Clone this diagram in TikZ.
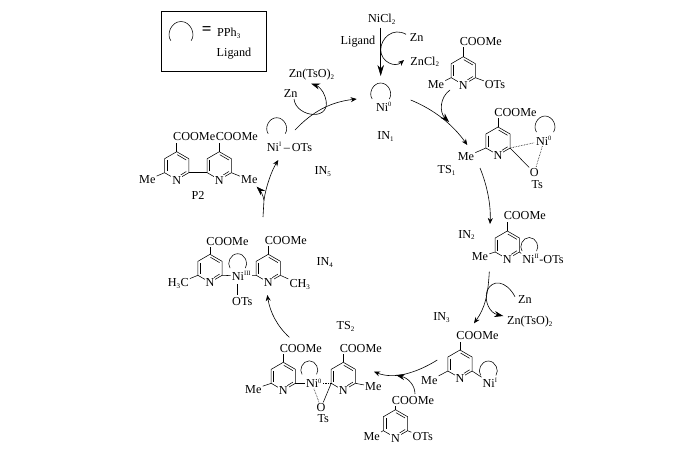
\documentclass[tikz,border=0pt]{standalone}
\usepackage{fontspec}
\setmainfont{Liberation Serif}
\usetikzlibrary{arrows.meta}
\tikzset{
  bond/.style={line width=.55pt},
  txt/.style={inner sep=1pt,font=\fontsize{12.2}{14}\selectfont},
  rxn/.style={line width=.6pt,-{Stealth[length=6pt,width=5pt]}},
  bigrxn/.style={line width=.6pt,-{Stealth[length=9pt,width=6pt]}},
  weak/.style={line width=.6pt,densely dotted}
}
\newcommand{\sbs}[1]{\textsubscript{\fontsize{7}{7}\selectfont #1}}
\newcommand{\sps}[1]{\textsuperscript{\fontsize{6.5}{7}\selectfont #1}}
% ring: name, centre x, centre y, height of the COOMe label
\newcommand{\pyring}[4]{%
  \begin{scope}[shift={(#2,#3)}]
    \draw[bond] (0,-14) coordinate (#1-t) -- (12.1,-7) coordinate (#1-ur)
      -- (12.1,7) coordinate (#1-lr) -- (0,14) coordinate (#1-n)
      -- (-12.1,7) coordinate (#1-ll) -- (-12.1,-7) coordinate (#1-ul) -- cycle;
    \draw[bond] (.5,-11) -- (9.6,-5.7);
    \draw[bond] (-9.6,-5.5) -- (-9.6,5.5);
    \draw[bond] (4,9.3) -- (9.6,5.8);
    \node[txt,fill=white] (#1-N) at (0,14.5) {N};
    \node[txt] (#1-e) at (17.5,-14-#4) {COOMe};
    \draw[bond] (#1-t) -- (0,-8.5-#4);
  \end{scope}}
% ligand loop: centre x, centre y, radius
\newcommand{\ligloop}[3]{%
  \begin{scope}[shift={(#1,#2)},scale=#3]
    \draw[bond] (-.85,.6) .. controls (-1.25,.05) and (-.8,-1) .. (0,-1)
      .. controls (.8,-1) and (1.25,.05) .. (.85,.6);
  \end{scope}}
\begin{document}
\begin{tikzpicture}[x=1pt,y=-1pt]
  \useasboundingbox (0,0) rectangle (700,459);
  % Legend
  \node[draw,bond,minimum width=105pt,minimum height=60pt,inner sep=0] (legend) at (214.2,41.7) {};
  \ligloop{181}{33.5}{12}
  \node[txt,font=\fontsize{17}{17}\selectfont\bfseries] (equal) at (206.7,30.5) {=};
  \node[txt] (pph) at (229,33.5) {PPh\sbs{3}};
  \node[txt] (lgd) at (234,53.7) {Ligand};
  % Ni0 formation
  \node[txt] (nicl) at (382,19) {NiCl\sbs{2}};
  \node[txt] (lig0) at (358,41.7) {Ligand};
  \node[txt] (zn0) at (416.7,37.3) {Zn};
  \node[txt] (zncl) at (425,61.7) {ZnCl\sbs{2}};
  \node[txt] (ni1) at (384,106.7) {Ni\sps{0}};
  \ligloop{380.7}{93}{10}
  \node[txt] (in1) at (385.7,136.7) {IN\sbs{1}};
  \coordinate (a1) at (380.7,27.7);
  \coordinate (a2) at (380.7,76);
  \draw[line width=.6pt,-{Stealth[length=11pt,width=6.5pt]}] (a1) -- (a2);
  \coordinate (z1) at (406,34.3);
  \coordinate (z2) at (380.7,50);
  \coordinate (z3) at (404,60);
  \draw[rxn] (z1) .. controls (393,27) and (380.7,38) .. (z2)
    .. controls (381,62) and (395,68) .. (z3);
  % First substrate
  \pyring{s1}{463.3}{70.7}{15.4}
  \node[txt] (me1) at (436,85) {Me};
  \node[txt] (ots1) at (495,85) {OTs};
  \draw[bond] (s1-ll) -- (me1);
  \draw[bond] (s1-lr) -- (ots1);
  % IN1 to TS1
  \coordinate (b1) at (410.7,100);
  \coordinate (b2) at (467.3,145);
  \coordinate (c1) at (450,90);
  \coordinate (c2) at (449,122);
  \draw[rxn] (b1) .. controls (435,110) and (453,125) .. (b2);
  \draw[bigrxn] (c1) .. controls (440,97) and (439,112) .. (c2);
  % TS1
  \pyring{t1}{498}{141}{14.7}
  \node[txt] (me2) at (466,156.7) {Me};
  \draw[bond] (t1-ll) -- (me2);
  \node[txt] (ni2) at (544,140.7) {Ni\sps{0}};
  \ligloop{545}{126}{10}
  \node[txt] (o1) at (534.3,172.7) {O};
  \node[txt] (ts1) at (537.3,184.3) {Ts};
  \draw[bond] (t1-lr) -- (o1);
  \draw[weak] (t1-lr) -- (ni2);
  \draw[weak] (ni2) -- (o1);
  \node[txt] (lts1) at (446.7,170.7) {TS\sbs{1}};
  \coordinate (d1) at (480,168);
  \coordinate (d2) at (490,224);
  \draw[rxn] (d1) .. controls (487,185) and (491,205) .. (d2);
  % IN2
  \pyring{i2}{507.3}{245}{15}
  \node[txt] (me3) at (480,256.7) {Me};
  \draw[bond] (i2-ll) -- (me3);
  \node[txt] (ni3) at (543,259) {Ni\sps{II}-OTs};
  \draw[bond] (i2-lr) -- (ni3.north west);
  \ligloop{529.3}{246}{8.5}
  \node[txt] (in2) at (466.7,235) {IN\sbs{2}};
  % IN2 to IN3
  \coordinate (e1) at (489.3,271.7);
  \coordinate (e2) at (474,323.3);
  \coordinate (f1) at (515,296.7);
  \coordinate (f2) at (487,291);
  \coordinate (f3) at (503.3,316);
  \node[txt] (zn2) at (525,299.3) {Zn};
  \node[txt] (zts2) at (530,321.7) {Zn(TsO)\sbs{2}};
  \draw[rxn] (e1) .. controls (488,295) and (485,308) .. (e2);
  \draw[bigrxn] (f1) .. controls (506,280) and (492,279) .. (f2)
    .. controls (484,302) and (490,313) .. (f3);
  \node[txt] (in3) at (441.7,317.3) {IN\sbs{3}};
  % IN3
  \pyring{i3}{460}{364}{14}
  \node[txt] (me4) at (429.3,380.7) {Me};
  \draw[bond] (i3-ll) -- (me4);
  \node[txt] (ni4) at (490,382.7) {Ni\sps{I}};
  \draw[bond] (i3-lr) -- (ni4);
  \ligloop{488.3}{370}{9}
  % Second substrate
  \pyring{s2}{395.5}{423.7}{9}
  \node[txt] (me5) at (371.7,436.7) {Me};
  \node[txt] (ots2) at (422.7,436.7) {OTs};
  \draw[bond] (s2-ll) -- (me5);
  \draw[bond] (s2-lr) -- (ots2);
  % IN3 to TS2
  \coordinate (g1) at (437.3,360);
  \coordinate (g2) at (374,371.7);
  \coordinate (h1) at (415,394);
  \coordinate (h2) at (396,375);
  \draw[rxn] (g1) .. controls (418,372) and (395,380) .. (g2);
  \draw[bigrxn] (h1) .. controls (415,385) and (408,378) .. (h2);
  % TS2
  \pyring{t2a}{283.3}{376.3}{14}
  \pyring{t2b}{343.3}{376.3}{14}
  \node[txt] (me6) at (253.3,389.3) {Me};
  \node[txt] (me7) at (373.3,386.7) {Me};
  \draw[bond] (t2a-ll) -- (me6);
  \draw[bond] (t2b-lr) -- (me7);
  \node[txt] (ni5) at (314,383.3) {Ni\sps{0}};
  \draw[bond] (t2a-lr) -- (ni5);
  \ligloop{309.3}{369.3}{8.5}
  \node[txt] (o2) at (321,407.7) {O};
  \node[txt] (ts2) at (323.3,419) {Ts};
  \draw[bond] (t2b-ll) -- (o2);
  \draw[weak] (ni5) -- (t2b-ll);
  \draw[weak] (ni5.south) -- (o2);
  \node[txt] (lts2) at (345.7,326.7) {TS\sbs{2}};
  \coordinate (k1) at (289.3,337.3);
  \coordinate (k2) at (267.3,295);
  \draw[rxn] (k1) .. controls (277,326) and (270,312) .. (k2);
  % IN4
  \pyring{i4a}{210}{268.3}{13}
  \pyring{i4b}{268.3}{268.3}{14}
  \node[txt] (hc) at (178.3,283.3) {H\sbs{3}C};
  \node[txt] (ch) at (300,284.3) {CH\sbs{3}};
  \draw[bond] (i4a-ll) -- (hc);
  \draw[bond] (i4b-lr) -- (ch);
  \node[txt] (ni6) at (241.5,276) {Ni\sps{III}};
  \draw[bond] (i4a-lr) -- (ni6);
  \draw[bond] (ni6) -- (i4b-ll);
  \ligloop{237.7}{262.7}{9}
  \node[txt] (ots3) at (242.3,301.7) {OTs};
  \coordinate (m1) at (237.3,284.3);
  \coordinate (m2) at (237.3,294.5);
  \draw[bond] (m1) -- (m2);
  \node[txt] (in4) at (325,262.3) {IN\sbs{4}};
  % IN4 to IN5, P2 leaves
  \coordinate (n1) at (263,217);
  \coordinate (n2) at (264,200);
  \coordinate (n3) at (278.3,160);
  \coordinate (n4) at (256.5,186.5);
  \draw[rxn] (n1) -- (n2) .. controls (266,186) and (272,170) .. (n3);
  \draw[bigrxn] (n2) .. controls (263,195) and (260,190) .. (n4);
  % P2
  \pyring{b1}{176.7}{165.7}{14.7}
  \pyring{b2}{219.3}{165.7}{14.7}
  \node[txt] (me8) at (147.3,180) {Me};
  \node[txt] (me9) at (249.3,180) {Me};
  \draw[bond] (b1-ll) -- (me8);
  \draw[bond] (b2-lr) -- (me9);
  \draw[bond] (b1-lr) -- (b2-ll);
  \node[txt] (p2) at (198,195) {P2};
  % IN5
  \node[txt] (ni7) at (289.5,147) {Ni\sps{I}\,--\,OTs};
  \ligloop{276.7}{127.7}{10}
  \node[txt] (in5) at (323,171.7) {IN\sbs{5}};
  \node[txt] (zn3) at (290.7,93.3) {Zn};
  \node[txt] (zts3) at (311.7,75) {Zn(TsO)\sbs{2}};
  \coordinate (q1) at (295,130);
  \coordinate (q2) at (356.7,99);
  \coordinate (r1) at (294,99);
  \coordinate (r2) at (311,83.5);
  \draw[rxn] (q1) .. controls (312,112) and (330,102) .. (q2);
  \draw[bigrxn] (r1) .. controls (296,118) and (334,122) .. (325,96.5)
    .. controls (323,90) and (318,86) .. (r2);
\end{tikzpicture}
\end{document}
